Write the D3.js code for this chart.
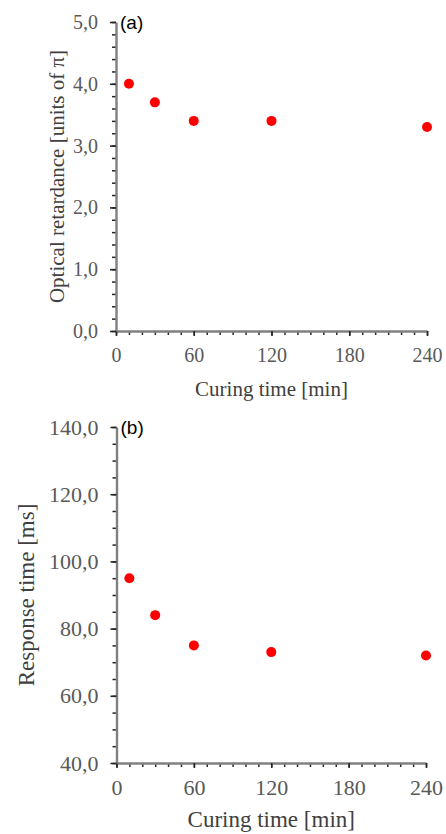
<!DOCTYPE html>
<html>
<head>
<meta charset="utf-8">
<script src="https://cdn.jsdelivr.net/npm/d3@7"></script>
<style>
body { margin: 0; background: #fff; }
svg { display: block; }
</style>
</head>
<body>
<script>
// data
let curingTime = [10, 30, 60, 120, 240]
let retardance = [4.0, 3.7, 3.4, 3.4, 3.3]
let responseTime = [95, 84, 75, 73, 72]
let timeTicks = [0, 60, 120, 180, 240]
let retardanceTicks = [0, 1, 2, 3, 4, 5]
let responseTicks = [40, 60, 80, 100, 120, 140]

let w = 446
let h = 834

let comma = d3.formatLocale({decimal: ",", thousands: ".", grouping: [3], currency: ["", ""]}).format(".1f")

let svg = d3.select("body").append("svg")
  .attr("width", w)
  .attr("height", h)

let drawPanel = (p)=>{
  let g = svg.append("g")

  let xScale = d3.scaleLinear().domain([0, 240]).range([p.left, p.right])
  let yScale = d3.scaleLinear().domain(p.yDomain).range([p.bottom, p.top])

  // minor ticks
  let xMinor = d3.range(0, 241, 10)
  g.append("g")
    .attr("transform", "translate(0," + p.bottom + ")")
    .call(d3.axisBottom(xScale).tickValues(xMinor).tickSize(4).tickFormat(""))
    .call(s=>s.select(".domain").remove())
    .call(s=>s.selectAll("line").attr("stroke", "#262626").attr("stroke-width", 1.5))

  let yMinor = d3.range(p.yDomain[0], p.yDomain[1] + p.minorStep / 2, p.minorStep)
  g.append("g")
    .attr("transform", "translate(" + p.left + ",0)")
    .call(d3.axisLeft(yScale).tickValues(yMinor).tickSize(4).tickFormat(""))
    .call(s=>s.select(".domain").remove())
    .call(s=>s.selectAll("line").attr("stroke", "#262626").attr("stroke-width", 1.5))

  // major axes
  let xAxis = d3.axisBottom(xScale)
    .tickValues(timeTicks)
    .tickSize(5)
    .tickSizeOuter(0)
    .tickPadding(p.xPad)
  g.append("g")
    .attr("transform", "translate(0," + p.bottom + ")")
    .call(xAxis)
    .call(s=>s.select(".domain").attr("stroke", "#808080").attr("stroke-width", 2.4))
    .call(s=>s.selectAll(".tick line").attr("stroke", "#262626").attr("stroke-width", 1.6))
    .call(s=>s.selectAll("text")
      .attr("font-family", "'Liberation Serif', 'Times New Roman', serif")
      .attr("font-size", p.font)
      .attr("fill", "#595959"))

  let yAxis = d3.axisLeft(yScale)
    .tickValues(p.yTicks)
    .tickSize(6)
    .tickSizeOuter(0)
    .tickPadding(12)
    .tickFormat(comma)
  g.append("g")
    .attr("transform", "translate(" + p.left + ",0)")
    .call(yAxis)
    .call(s=>s.select(".domain").attr("stroke", "#808080").attr("stroke-width", 2.4))
    .call(s=>s.selectAll(".tick line").attr("stroke", "#262626").attr("stroke-width", 1.6))
    .call(s=>s.selectAll("text")
      .attr("font-family", "'Liberation Serif', 'Times New Roman', serif")
      .attr("font-size", p.font)
      .attr("fill", "#595959"))

  // points
  g.selectAll("circle")
    .data(curingTime)
    .enter()
    .append("circle")
    .attr("cx", (d)=>xScale(d))
    .attr("cy", (d, i)=>yScale(p.values[i]))
    .attr("r", 5)
    .attr("fill", "#ff0000")

  // axis titles
  g.append("text")
    .text("Curing time [min]")
    .attr("x", (p.left + p.right) / 2)
    .attr("y", p.xTitleY)
    .attr("text-anchor", "middle")
    .attr("font-family", "'Liberation Serif', 'Times New Roman', serif")
    .attr("font-size", p.titleFont)
    .attr("fill", "#404040")

  g.append("text")
    .text(p.yTitle)
    .attr("transform", "translate(" + p.yTitleX + "," + (p.top + p.bottom) / 2 + ") rotate(-90)")
    .attr("dy", "0.35em")
    .attr("text-anchor", "middle")
    .attr("font-family", "'Liberation Serif', 'Times New Roman', serif")
    .attr("font-size", p.titleFont)
    .attr("fill", "#404040")

  // panel letter
  g.append("text")
    .text(p.letter)
    .attr("x", p.left + 4)
    .attr("y", p.top + 7)
    .attr("font-family", "'Liberation Sans', Arial, sans-serif")
    .attr("font-size", 19)
    .attr("fill", "#000")
}

drawPanel({
  left: 116, right: 427, top: 22, bottom: 331,
  yDomain: [0, 5], yTicks: retardanceTicks, minorStep: 0.2,
  values: retardance,
  yTitle: "Optical retardance [units of π]",
  yTitleX: 57, xTitleY: 396, xPad: 12,
  font: 20, titleFont: 21, letter: "(a)"
})

drawPanel({
  left: 116.5, right: 426, top: 427, bottom: 763,
  yDomain: [40, 140], yTicks: responseTicks, minorStep: 5,
  values: responseTime,
  yTitle: "Response time [ms]",
  yTitleX: 26, xTitleY: 827, xPad: 11,
  font: 22, titleFont: 23, letter: "(b)"
})
</script>
</body>
</html>
